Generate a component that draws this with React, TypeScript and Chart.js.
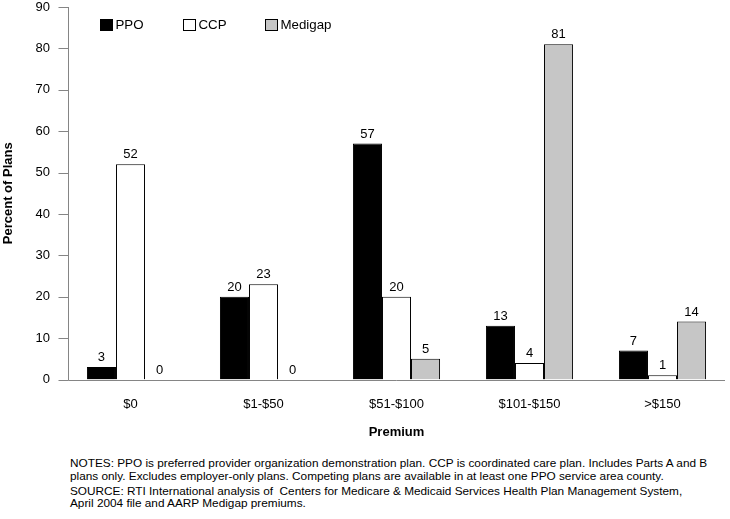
import React, { useEffect, useRef } from "react";
import { Chart, registerables } from "chart.js";

Chart.register(...registerables);

const categories = ["$0", "$1-$50", "$51-$100", "$101-$150", ">$150"];
const seriesNames = ["PPO", "CCP", "Medigap"];
const ppoValues = [3, 20, 57, 13, 7];
const ccpValues = [52, 23, 20, 4, 1];
const medigapValues = [0, 0, 5, 81, 14];
const yTicksMax = 90;
const yTickStep = 10;
const xTitle = "Premium";
const yTitle = "Percent of Plans";
const notes = [
  [
    "NOTES: PPO is preferred provider organization demonstration plan. CCP is coordinated care plan. Includes Parts A and B",
    "plans only. Excludes employer-only plans. Competing plans are available in at least one PPO service area county.",
  ],
  [
    "SOURCE: RTI International analysis of  Centers for Medicare & Medicaid Services Health Plan Management System,",
    "April 2004 file and AARP Medigap premiums.",
  ],
];

const FONT = "'Liberation Sans', Arial, Helvetica, sans-serif";
const AXIS_COLOR = "#858585";
const CANVAS_H = 445;

const axesPlugin = {
  id: "customAxes",
  afterDatasetsDraw(chart: any) {
    const { ctx, chartArea } = chart;
    const y = chart.scales.y;
    const axisX = chartArea.left + 4.5;
    const zeroY = Math.round(y.getPixelForValue(0)) + 0.5;
    ctx.save();
    ctx.strokeStyle = AXIS_COLOR;
    ctx.lineWidth = 1;
    ctx.beginPath();
    ctx.moveTo(axisX, y.getPixelForValue(yTicksMax));
    ctx.lineTo(axisX, zeroY);
    ctx.moveTo(axisX, zeroY);
    ctx.lineTo(chartArea.right - 4, zeroY);
    y.ticks.forEach((t: any) => {
      const py = Math.round(y.getPixelForValue(t.value)) + 0.5;
      ctx.moveTo(axisX - 10, py);
      ctx.lineTo(axisX, py);
    });
    ctx.stroke();
    ctx.restore();
  },
};

const labelsPlugin = {
  id: "valueLabels",
  afterDatasetsDraw(chart: any) {
    const { ctx } = chart;
    ctx.save();
    ctx.font = `13px ${FONT}`;
    ctx.fillStyle = "#000";
    ctx.textAlign = "center";
    ctx.textBaseline = "bottom";
    chart.data.datasets.forEach((ds: any, i: number) => {
      const meta = chart.getDatasetMeta(i);
      meta.data.forEach((el: any, j: number) => {
        ctx.fillText(String(ds.data[j]), el.x, el.y - 3);
      });
    });
    ctx.restore();
  },
};

const legendPlugin = {
  id: "insideLegend",
  afterDraw(chart: any) {
    const { ctx, chartArea } = chart;
    ctx.save();
    ctx.font = `13.3px ${FONT}`;
    ctx.textBaseline = "middle";
    ctx.textAlign = "left";
    const startX = chartArea.left + 36;
    const step = 82.5;
    const cy = chartArea.top + 18;
    chart.data.datasets.forEach((ds: any, i: number) => {
      const bx = Math.round(startX + i * step) + 0.5;
      const by = Math.round(cy - 6) + 0.5;
      ctx.fillStyle = ds.backgroundColor;
      ctx.fillRect(bx, by, 12, 11);
      ctx.strokeStyle = "#000";
      ctx.lineWidth = 1;
      ctx.strokeRect(bx, by, 12, 11);
      ctx.fillStyle = "#000";
      ctx.fillText(ds.label, bx + 15, cy);
    });
    ctx.restore();
  },
};

export default function App() {
  const ref = useRef<HTMLCanvasElement | null>(null);

  useEffect(() => {
    if (!ref.current) return;
    const chart = new Chart(ref.current, {
      type: "bar",
      data: {
        labels: categories,
        datasets: [
          { label: seriesNames[0], data: ppoValues, backgroundColor: "#000000", borderColor: "#000000", borderWidth: 1 },
          { label: seriesNames[1], data: ccpValues, backgroundColor: "#ffffff", borderColor: "#000000", borderWidth: 1 },
          { label: seriesNames[2], data: medigapValues, backgroundColor: "#c6c6c6", borderColor: "#000000", borderWidth: 1 },
        ],
      },
      options: {
        animation: false,
        responsive: false,
        maintainAspectRatio: false,
        layout: { padding: { top: 7, right: 1, left: 0, bottom: 0 } },
        datasets: { bar: { categoryPercentage: 0.655, barPercentage: 1 } },
        plugins: { legend: { display: false }, tooltip: { enabled: false } },
        scales: {
          x: {
            grid: { display: false, drawTicks: false },
            border: { display: false },
            ticks: { color: "#000", font: { family: FONT, size: 13 }, padding: 17 },
            title: {
              display: true,
              text: xTitle,
              color: "#000",
              font: { family: FONT, size: 13, weight: "bold" },
              padding: { top: 0, bottom: 5 },
            },
            afterFit(scale: any) {
              scale.height = CANVAS_H - 379.5;
              scale.paddingLeft = 0;
              scale.paddingRight = 0;
            },
          },
          y: {
            min: 0,
            max: yTicksMax,
            grid: { display: false, drawTicks: false },
            border: { display: false },
            ticks: { stepSize: yTickStep, color: "#000", font: { family: FONT, size: 13 }, padding: 14 },
            title: {
              display: true,
              text: yTitle,
              color: "#000",
              font: { family: FONT, size: 13, weight: "bold" },
              padding: { top: 1, bottom: 0 },
            },
            afterFit(scale: any) {
              scale.width = 64;
              scale.paddingTop = 0;
              scale.paddingBottom = 0;
            },
          },
        },
      },
      plugins: [axesPlugin, labelsPlugin, legendPlugin],
    });
    return () => chart.destroy();
  }, []);

  return (
    <div style={{ position: "absolute", left: 0, top: 0, width: 730, height: 519, background: "#fff", overflow: "hidden" }}>
      <canvas ref={ref} width={730} height={CANVAS_H} style={{ display: "block", width: 730, height: CANVAS_H }} />
      <div
        style={{
          position: "absolute",
          left: 70,
          top: 457,
          fontFamily: FONT,
          fontSize: 11.8,
          lineHeight: "12.8px",
          color: "#000",
          whiteSpace: "pre",
        }}
      >
        {notes.map((para, i) => (
          <div key={i} style={{ marginBottom: 2 }}>
            {para.map((line, j) => (
              <div key={j}>{line}</div>
            ))}
          </div>
        ))}
      </div>
    </div>
  );
}
